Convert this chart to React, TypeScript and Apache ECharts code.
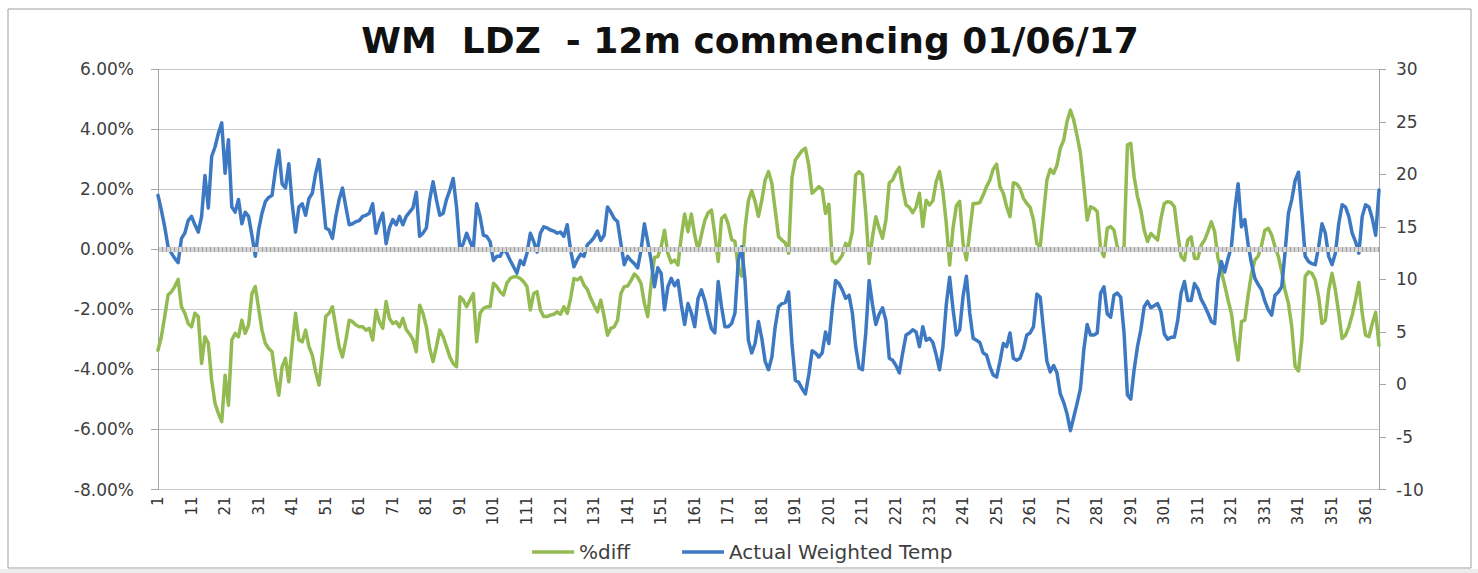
import React, { useEffect, useRef } from "react";
import * as echarts from "echarts";

// Day numbers (category axis) 1..365
const dayLabels: string[] = Array.from({ length: 365 }, (_, i) => String(i + 1));

// %diff (percent units), day by day
const pctDiff: number[] = [
  -3.36, -2.91, -2.24, -1.52, -1.41, -1.24, -1.0, -1.91, -2.13, -2.47,
  -2.58, -2.13, -2.24, -3.8, -2.91, -3.13, -4.36, -5.13, -5.47, -5.74,
  -4.19, -5.19, -3.02, -2.8, -2.91, -2.36, -2.8, -2.52, -1.47, -1.24,
  -1.97, -2.69, -3.13, -3.3, -3.41, -4.24, -4.86, -3.91, -3.63, -4.41,
  -3.19, -2.13, -3.02, -3.08, -2.69, -3.24, -3.52, -4.08, -4.52, -3.47,
  -2.24, -2.13, -1.91, -2.58, -3.24, -3.58, -3.02, -2.36, -2.41, -2.52,
  -2.58, -2.58, -2.69, -2.63, -3.02, -2.02, -2.41, -2.63, -1.74, -2.3,
  -2.47, -2.41, -2.58, -2.3, -2.67, -2.82, -3.0, -3.41, -1.86, -2.13,
  -2.58, -3.3, -3.74, -3.24, -2.69, -2.91, -3.24, -3.58, -3.8, -3.91,
  -1.58, -1.69, -1.91, -1.69, -1.47, -3.08, -2.13, -1.97, -1.91, -1.91,
  -1.13, -1.24, -1.41, -1.52, -1.13, -0.97, -0.91, -0.91, -0.97, -1.08,
  -1.24, -2.02, -1.47, -1.41, -2.02, -2.24, -2.24, -2.19, -2.16, -2.08,
  -2.16, -1.91, -2.13, -1.63, -0.97, -1.02, -0.93, -1.19, -1.33, -1.63,
  -1.86, -2.08, -1.69, -2.24, -2.86, -2.63, -2.58, -2.36, -1.47, -1.24,
  -1.22, -1.04, -0.82, -0.93, -1.13, -1.8, -2.24, -1.13, -0.27, -0.24,
  0.09, 0.64, -0.13, -0.44, -0.36, -0.52, 0.42, 1.18, 0.59, 1.18,
  0.48, -0.04, 0.48, 0.96, 1.22, 1.31, 0.5, -0.4, 1.03, 1.14,
  0.84, 0.33, 0.26, -0.63, -0.89, 0.7, 1.62, 1.96, 1.6, 1.1,
  1.64, 2.31, 2.59, 2.2, 1.31, 0.42, 0.31, 0.22, -0.13, 2.4,
  2.98, 3.14, 3.29, 3.37, 2.81, 1.87, 1.98, 2.09, 2.0, 1.2,
  1.5, -0.36, -0.47, -0.36, -0.19, 0.2, 0.09, 0.59, 2.48, 2.59,
  2.48, 1.2, -0.47, 0.42, 1.09, 0.7, 0.37, 0.98, 2.22, 2.31,
  2.56, 2.73, 2.03, 1.48, 1.4, 1.22, 1.42, 1.87, 0.76, 1.64,
  1.48, 1.62, 2.26, 2.59, 1.92, 0.87, -0.52, 0.7, 1.45, 1.6,
  0.2, -0.35, 0.6, 1.53, 1.53, 1.56, 1.81, 2.09, 2.31, 2.67,
  2.84, 2.09, 1.87, 1.42, 1.09, 2.22, 2.18, 2.03, 1.7, 1.53,
  1.4, 0.98, 0.2, 0.09, 1.2, 2.31, 2.67, 2.53, 2.81, 3.37,
  3.64, 4.26, 4.64, 4.31, 3.78, 3.2, 2.14, 0.98, 1.42, 1.37,
  1.26, 0.03, -0.24, 0.7, 0.76, 0.64, 0.07, -0.02, 0.09, 3.48,
  3.53, 2.42, 1.76, 1.31, 0.64, 0.26, 0.53, 0.42, 0.31, 1.03,
  1.53, 1.59, 1.56, 1.42, 0.53, -0.24, -0.36, 0.31, 0.42, -0.3,
  -0.3, 0.14, 0.31, 0.59, 0.92, 0.59, -0.3, -0.74, -1.19, -1.69,
  -2.13, -3.02, -3.69, -2.41, -2.36, -1.52, -0.8, -0.36, -0.22, 0.14,
  0.64, 0.7, 0.48, 0.09, -0.24, -0.74, -1.36, -1.8, -2.58, -3.9,
  -4.05, -3.02, -0.9, -0.75, -0.8, -1.02, -1.58, -2.47, -2.36, -1.36,
  -0.8, -1.36, -2.13, -2.97, -2.86, -2.58, -2.19, -1.69, -1.1, -2.13,
  -2.86, -2.91, -2.47, -2.1, -3.2,
];

// Actual Weighted Temp, day by day
const actualTemp: number[] = [
  18.0, 16.6, 15.0, 13.1, 12.5, 12.0, 11.6, 13.9, 14.4, 15.6,
  16.0, 15.2, 14.5, 16.0, 19.9, 16.8, 21.7, 22.6, 23.9, 24.9,
  20.1, 23.3, 16.9, 16.4, 17.6, 15.3, 16.4, 16.0, 14.2, 12.2,
  14.7, 16.3, 17.4, 17.8, 18.0, 20.4, 22.3, 19.1, 18.7, 21.0,
  17.2, 14.5, 16.9, 17.2, 16.1, 17.7, 18.2, 20.1, 21.4, 18.2,
  14.9, 14.7, 13.9, 16.0, 17.6, 18.7, 16.9, 15.2, 15.3, 15.5,
  15.6, 16.0, 16.1, 16.3, 17.2, 14.4, 15.5, 16.3, 13.4, 14.9,
  15.7, 15.2, 16.0, 15.2, 16.0, 16.4, 16.8, 18.3, 14.1, 14.4,
  14.9, 17.6, 19.3, 17.6, 16.1, 16.3, 17.6, 18.5, 19.6, 16.9,
  12.8, 13.4, 14.4, 13.6, 12.9, 17.2, 16.0, 14.2, 14.1, 13.6,
  11.8, 12.2, 12.2, 12.9, 12.5, 11.8, 11.2, 10.6, 11.8, 11.4,
  12.5, 14.4, 13.6, 12.6, 14.4, 15.0, 14.9, 14.7, 14.6, 14.4,
  14.5, 14.1, 15.2, 12.8, 11.2, 11.9, 12.4, 12.2, 13.3, 13.6,
  14.0, 14.6, 13.7, 14.2, 16.9, 16.4, 15.8, 15.5, 13.4, 11.4,
  12.2, 11.8, 11.5, 11.1, 12.8, 15.3, 13.6, 11.8, 9.3, 11.1,
  10.6, 7.1, 9.3, 10.1, 9.4, 9.9, 7.6, 5.7, 7.7, 6.8,
  5.5, 8.2, 9.0, 8.0, 6.6, 5.3, 4.9, 9.8, 7.4, 5.5,
  5.5, 5.8, 6.8, 11.8, 13.1, 9.9, 4.2, 3.0, 3.9, 6.0,
  4.4, 2.2, 1.4, 2.6, 5.5, 7.4, 7.7, 7.8, 8.8, 3.9,
  0.4, 0.2, -0.4, -0.9, 0.9, 3.2, 3.0, 2.6, 3.0, 5.0,
  3.9, 7.2, 9.9, 9.6, 9.0, 8.2, 8.5, 6.8, 3.6, 1.6,
  1.4, 4.9, 9.9, 7.6, 5.7, 6.7, 7.3, 6.1, 2.5, 2.3,
  1.8, 1.1, 3.0, 4.7, 4.9, 5.2, 5.0, 3.6, 5.5, 4.2,
  4.4, 4.0, 2.8, 1.4, 3.6, 7.6, 10.2, 7.2, 4.7, 5.2,
  8.4, 10.3, 6.8, 4.4, 4.2, 4.0, 3.0, 2.8, 1.7, 0.9,
  0.7, 2.2, 3.9, 3.6, 4.9, 2.5, 2.3, 2.5, 3.4, 4.7,
  4.9, 5.5, 8.6, 8.3, 5.2, 2.2, 1.2, 1.8, 1.1, -0.9,
  -1.7, -2.8, -4.4, -3.1, -1.8, -0.4, 3.3, 5.7, 4.7, 4.7,
  4.9, 8.7, 9.3, 6.7, 6.4, 8.5, 8.7, 8.3, 4.9, -1.0,
  -1.4, 1.4, 3.6, 5.2, 7.4, 7.9, 7.3, 7.5, 7.7, 6.9,
  4.8, 4.3, 4.5, 4.5, 6.1, 8.7, 9.8, 8.0, 8.0, 9.6,
  9.1, 8.1, 7.5, 6.8, 6.0, 5.8, 9.9, 11.7, 10.7, 12.0,
  13.1, 16.6, 19.1, 15.0, 15.7, 13.3, 11.5, 10.1, 9.5, 9.0,
  7.9, 7.1, 6.6, 8.5, 8.8, 9.3, 12.6, 16.3, 17.6, 19.4,
  20.2, 16.3, 12.2, 11.7, 11.5, 11.4, 13.1, 15.3, 14.4, 12.2,
  11.4, 12.5, 15.3, 17.1, 16.9, 16.0, 14.4, 13.6, 12.5, 16.0,
  17.1, 16.9, 15.8, 14.2, 18.5,
];

// Axis scales
const leftAxis = { min: -8, max: 6, interval: 2 };
const rightAxis = { min: -10, max: 30, interval: 5 };

const seriesNames = ["%diff", "Actual Weighted Temp"];
const titleText = "WM  LDZ  - 12m commencing 01/06/17";

const GREEN = "#93bb52";
const BLUE = "#3d79c3";
const FONT = "DejaVu Sans";

export default function App() {
  const ref = useRef<HTMLDivElement | null>(null);

  useEffect(() => {
    if (!ref.current) return;
    const chart = echarts.init(ref.current, null, { renderer: "svg" });
    const axisGray = "#a6a6a6";
    const option: any = {
      animation: false,
      backgroundColor: "#ffffff",
      textStyle: { fontFamily: FONT },
      title: {
        text: titleText,
        left: 750,
        top: 22,
        textAlign: "center",
        padding: 0,
        textStyle: { fontFamily: FONT, fontWeight: "bold", fontSize: 36, color: "#111111" },
      },
      graphic: [
        {
          type: "rect",
          silent: true,
          z: -10,
          shape: { x: 8, y: 9, width: 1463, height: 559 },
          style: { fill: "none", stroke: "#a0a0a0", lineWidth: 1 },
        },
        {
          type: "rect",
          silent: true,
          z: -10,
          shape: { x: 0, y: 569, width: 1478, height: 4 },
          style: { fill: "#ececec" },
        },
      ],
      legend: {
        data: seriesNames,
        left: 527,
        top: 537,
        icon: "rect",
        itemWidth: 42,
        itemHeight: 3.5,
        itemGap: 52,
        textStyle: { fontFamily: FONT, fontSize: 20, color: "#404040" },
      },
      grid: { left: 158, right: 99, top: 69.3, bottom: 83.5, containLabel: false },
      xAxis: {
        type: "category",
        data: dayLabels,
        boundaryGap: false,
        axisLine: { show: true, lineStyle: { color: axisGray, width: 1 } },
        axisTick: { show: false },
        splitLine: { show: false },
        axisLabel: {
          interval: 9,
          rotate: 90,
          margin: 7,
          fontFamily: FONT,
          fontSize: 15,
          color: "#333333",
        },
      },
      yAxis: [
        {
          type: "value",
          position: "left",
          min: leftAxis.min,
          max: leftAxis.max,
          interval: leftAxis.interval,
          axisLine: { show: true, lineStyle: { color: axisGray } },
          axisTick: { show: true, length: 7, lineStyle: { color: axisGray } },
          splitLine: { show: true, lineStyle: { color: "#c8c8c8", width: 1 } },
          axisLabel: {
            formatter: (v: number) => v.toFixed(2) + "%",
            margin: 24,
            fontFamily: FONT,
            fontSize: 17,
            color: "#404040",
          },
        },
        {
          type: "value",
          position: "right",
          min: rightAxis.min,
          max: rightAxis.max,
          interval: rightAxis.interval,
          axisLine: { show: true, lineStyle: { color: axisGray } },
          axisTick: { show: true, length: 7, lineStyle: { color: axisGray } },
          splitLine: { show: false },
          axisLabel: {
            margin: 17,
            fontFamily: FONT,
            fontSize: 17,
            color: "#404040",
          },
        },
      ],
      series: [
        {
          name: "zero",
          type: "line",
          yAxisIndex: 0,
          data: [],
          silent: true,
          z: 1,
          markLine: {
            silent: true,
            symbol: ["none", "none"],
            label: { show: false },
            data: [
              { yAxis: 0, lineStyle: { color: "#d6d6d6", width: 5, type: "solid" } },
              { yAxis: 0, lineStyle: { color: "#9c9c9c", width: 5, type: [1, 3] } },
            ],
          },
        },
        {
          name: seriesNames[0],
          type: "line",
          yAxisIndex: 0,
          data: pctDiff,
          symbol: "none",
          z: 3,
          lineStyle: { color: GREEN, width: 3.5, join: "round", cap: "round" },
          itemStyle: { color: GREEN },
        },
        {
          name: seriesNames[1],
          type: "line",
          yAxisIndex: 1,
          data: actualTemp,
          symbol: "none",
          z: 4,
          lineStyle: { color: BLUE, width: 3.5, join: "round", cap: "round" },
          itemStyle: { color: BLUE },
        },
      ],
    };
    chart.setOption(option);
    return () => {
      chart.dispose();
    };
  }, []);

  return (
    <div
      ref={ref}
      style={{ position: "absolute", left: 0, top: 0, width: 1478, height: 573 }}
    />
  );
}
